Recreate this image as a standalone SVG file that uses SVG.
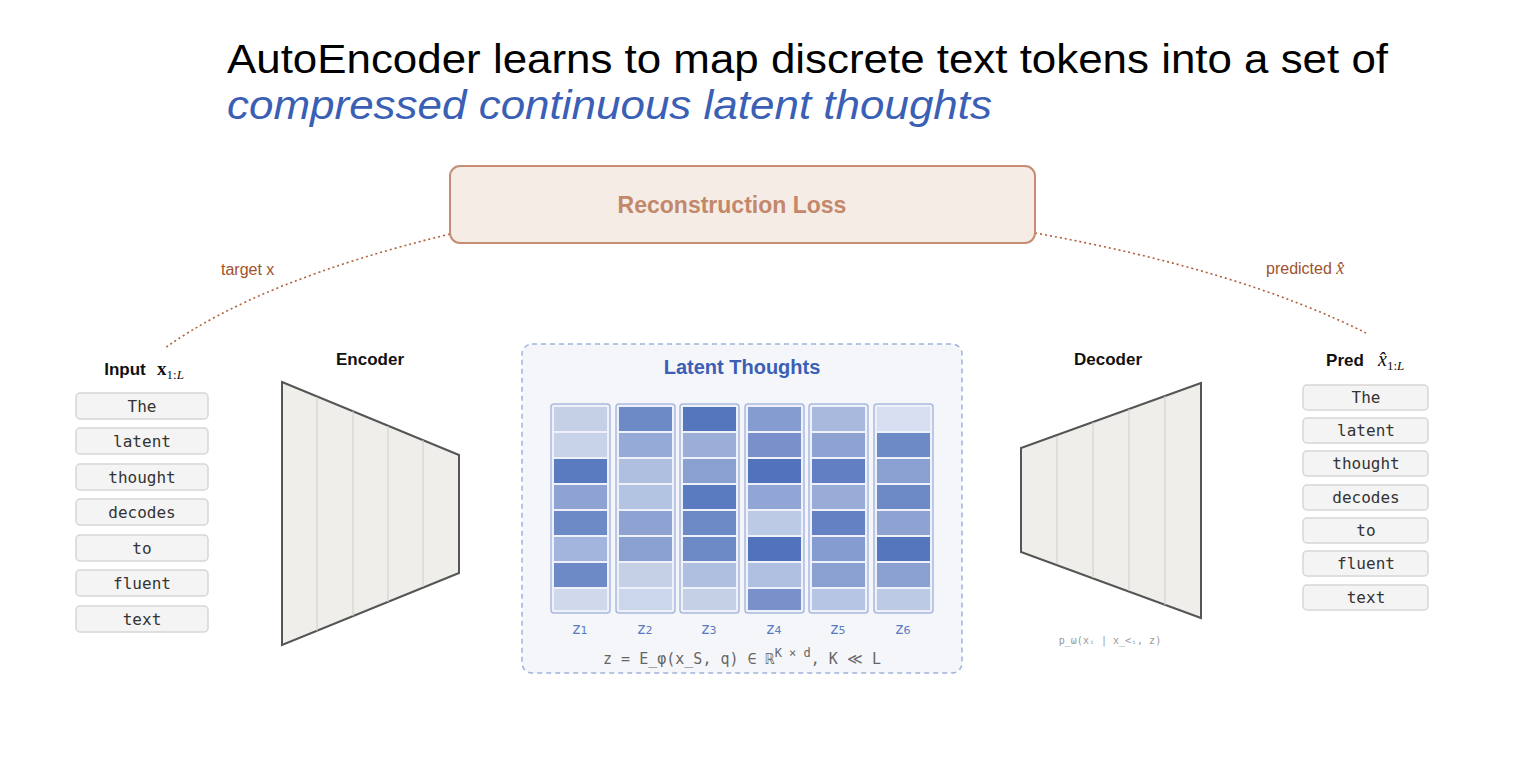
<svg xmlns="http://www.w3.org/2000/svg" width="1524" height="778" viewBox="0 0 1524 778">
<style>
.tok{fill:#f4f4f4;stroke:#d6d6d6;stroke-width:1.5}
.tt{font-family:"DejaVu Sans Mono",monospace;font-size:16px;fill:#333;text-anchor:middle}
.lbl{font-family:"Liberation Sans",Arial,sans-serif;font-weight:bold;font-size:17px;fill:#111;text-anchor:middle}
.col{fill:#eef1f9;stroke:#a9b9de;stroke-width:1.5}
.zl{font-family:"DejaVu Sans",sans-serif;font-size:15px;fill:#5a7ac0;text-anchor:middle}
.trap{fill:#efeeea;stroke:#555;stroke-width:2}
.inner{stroke:#cfcec9;stroke-width:1}
.dot{fill:none;stroke:#b0603a;stroke-width:1.6;stroke-dasharray:2 3}
.side{font-family:"Liberation Sans",Arial,sans-serif;font-size:16px;fill:#a0522d}
</style>
<rect width="1524" height="778" fill="#fff"/>
<text x="227" y="73" font-family="Liberation Sans,Arial,sans-serif" font-size="41" fill="#000" textLength="1161" lengthAdjust="spacingAndGlyphs">AutoEncoder learns to map discrete text tokens into a set of</text>
<text x="227" y="119" font-family="Liberation Sans,Arial,sans-serif" font-size="41" font-style="italic" fill="#3a5fb5" textLength="765" lengthAdjust="spacingAndGlyphs">compressed continuous latent thoughts</text>

<g id="connectors">
<path class="dot" d="M450,234 Q260,280 165,348"/>
<path class="dot" d="M1035,233 Q1240,270 1366,333"/>
<text class="side" x="221" y="275">target x</text>
<text class="side" x="1266" y="274">predicted <tspan font-family="Liberation Serif,serif" font-style="italic" font-size="18">x̂</tspan></text>
</g>

<g id="loss">
<rect x="450" y="166" width="585" height="77" rx="10" fill="#f6ece6" stroke="#c58e74" stroke-width="2"/>
<text x="732" y="213" text-anchor="middle" font-family="Liberation Sans,Arial,sans-serif" font-weight="bold" font-size="23" fill="#c3876a">Reconstruction Loss</text>
</g>

<g id="input">
<text x="125" y="375" class="lbl">Input</text>
<text x="157" y="375" font-family="Liberation Serif,serif" font-weight="bold" font-size="19" fill="#111">x<tspan font-size="13" font-weight="normal" dy="4">1:</tspan><tspan font-size="13" font-weight="normal" font-style="italic">L</tspan></text>
<rect class="tok" x="76" y="393" width="132" height="26" rx="4"/><text class="tt" x="142" y="412">The</text>
<rect class="tok" x="76" y="428" width="132" height="26" rx="4"/><text class="tt" x="142" y="447">latent</text>
<rect class="tok" x="76" y="464" width="132" height="26" rx="4"/><text class="tt" x="142" y="483">thought</text>
<rect class="tok" x="76" y="499" width="132" height="26" rx="4"/><text class="tt" x="142" y="518">decodes</text>
<rect class="tok" x="76" y="535" width="132" height="26" rx="4"/><text class="tt" x="142" y="554">to</text>
<rect class="tok" x="76" y="570" width="132" height="26" rx="4"/><text class="tt" x="142" y="589">fluent</text>
<rect class="tok" x="76" y="606" width="132" height="26" rx="4"/><text class="tt" x="142" y="625">text</text>
</g>

<g id="encoder">
<text x="370" y="365" class="lbl">Encoder</text>
<polygon class="trap" points="282,382 459,455 459,573 282,645"/>
<line class="inner" x1="317" y1="397" x2="317" y2="631"/>
<line class="inner" x1="353" y1="411" x2="353" y2="616"/>
<line class="inner" x1="388" y1="426" x2="388" y2="602"/>
<line class="inner" x1="423" y1="440" x2="423" y2="587"/>
</g>

<g id="latent">
<rect x="522" y="344" width="440" height="329" rx="10" fill="#f5f6fa" stroke="#9fb1dc" stroke-width="1.5" stroke-dasharray="5 4"/>
<text x="742" y="374" text-anchor="middle" font-family="Liberation Sans,Arial,sans-serif" font-weight="bold" font-size="20" fill="#3a5fb5">Latent Thoughts</text>
<g id="z1"><rect class="col" x="551" y="404" width="59" height="209" rx="3"/>
<rect x="554" y="407" width="53" height="24" fill="#c5d0e6"/><rect x="554" y="433" width="53" height="24" fill="#c8d2e8"/><rect x="554" y="459" width="53" height="24" fill="#5b7bc0"/><rect x="554" y="485" width="53" height="24" fill="#8ea3d2"/><rect x="554" y="511" width="53" height="24" fill="#6d89c6"/><rect x="554" y="537" width="53" height="24" fill="#a3b5dc"/><rect x="554" y="563" width="53" height="24" fill="#6d89c6"/><rect x="554" y="589" width="53" height="21" fill="#d0d9ec"/></g>
<g id="z2"><rect class="col" x="616" y="404" width="59" height="209" rx="3"/>
<rect x="619" y="407" width="53" height="24" fill="#6d89c6"/><rect x="619" y="433" width="53" height="24" fill="#95aad6"/><rect x="619" y="459" width="53" height="24" fill="#aebfe0"/><rect x="619" y="485" width="53" height="24" fill="#b3c3e2"/><rect x="619" y="511" width="53" height="24" fill="#8ea3d2"/><rect x="619" y="537" width="53" height="24" fill="#8aa0d1"/><rect x="619" y="563" width="53" height="24" fill="#c5d0e6"/><rect x="619" y="589" width="53" height="21" fill="#ccd6ea"/></g>
<g id="z3"><rect class="col" x="680" y="404" width="59" height="209" rx="3"/>
<rect x="683" y="407" width="53" height="24" fill="#5575bd"/><rect x="683" y="433" width="53" height="24" fill="#9aaed8"/><rect x="683" y="459" width="53" height="24" fill="#8aa0d1"/><rect x="683" y="485" width="53" height="24" fill="#5b7bc0"/><rect x="683" y="511" width="53" height="24" fill="#6d89c6"/><rect x="683" y="537" width="53" height="24" fill="#6d89c6"/><rect x="683" y="563" width="53" height="24" fill="#aebfe0"/><rect x="683" y="589" width="53" height="21" fill="#c5d0e6"/></g>
<g id="z4"><rect class="col" x="745" y="404" width="59" height="209" rx="3"/>
<rect x="748" y="407" width="53" height="24" fill="#859cd0"/><rect x="748" y="433" width="53" height="24" fill="#7990cb"/><rect x="748" y="459" width="53" height="24" fill="#5272bc"/><rect x="748" y="485" width="53" height="24" fill="#91a6d4"/><rect x="748" y="511" width="53" height="24" fill="#bccae6"/><rect x="748" y="537" width="53" height="24" fill="#5272bc"/><rect x="748" y="563" width="53" height="24" fill="#b0c0e1"/><rect x="748" y="589" width="53" height="21" fill="#7990cb"/></g>
<g id="z5"><rect class="col" x="809" y="404" width="59" height="209" rx="3"/>
<rect x="812" y="407" width="53" height="24" fill="#a8b9dd"/><rect x="812" y="433" width="53" height="24" fill="#8ea3d2"/><rect x="812" y="459" width="53" height="24" fill="#617fc2"/><rect x="812" y="485" width="53" height="24" fill="#98acd7"/><rect x="812" y="511" width="53" height="24" fill="#6482c3"/><rect x="812" y="537" width="53" height="24" fill="#859cd0"/><rect x="812" y="563" width="53" height="24" fill="#8aa0d1"/><rect x="812" y="589" width="53" height="21" fill="#b6c5e4"/></g>
<g id="z6"><rect class="col" x="874" y="404" width="59" height="209" rx="3"/>
<rect x="877" y="407" width="53" height="24" fill="#d6deef"/><rect x="877" y="433" width="53" height="24" fill="#6d89c6"/><rect x="877" y="459" width="53" height="24" fill="#8aa0d1"/><rect x="877" y="485" width="53" height="24" fill="#6d89c6"/><rect x="877" y="511" width="53" height="24" fill="#8ea3d2"/><rect x="877" y="537" width="53" height="24" fill="#5575bd"/><rect x="877" y="563" width="53" height="24" fill="#8aa0d1"/><rect x="877" y="589" width="53" height="21" fill="#bccae6"/></g>
<text class="zl" x="580" y="634">z<tspan font-size="11">1</tspan></text><text class="zl" x="645" y="634">z<tspan font-size="11">2</tspan></text><text class="zl" x="709" y="634">z<tspan font-size="11">3</tspan></text><text class="zl" x="774" y="634">z<tspan font-size="11">4</tspan></text><text class="zl" x="838" y="634">z<tspan font-size="11">5</tspan></text><text class="zl" x="903" y="634">z<tspan font-size="11">6</tspan></text>
<text x="742" y="664" text-anchor="middle" font-family="DejaVu Sans Mono,monospace" font-size="15" fill="#666">z = E_φ(x_S, q) ∈ ℝ<tspan font-size="12" dy="-7">K × d</tspan><tspan dy="7">, K ≪ L</tspan></text>
</g>

<g id="decoder">
<text x="1108" y="365" class="lbl">Decoder</text>
<polygon class="trap" points="1021,448 1201,383 1201,618 1021,552"/>
<line class="inner" x1="1057" y1="436" x2="1057" y2="564"/>
<line class="inner" x1="1093" y1="422" x2="1093" y2="578"/>
<line class="inner" x1="1129" y1="409" x2="1129" y2="591"/>
<line class="inner" x1="1165" y1="396" x2="1165" y2="605"/>
<text x="1110" y="644" text-anchor="middle" font-family="DejaVu Sans Mono,monospace" font-size="10" fill="#999">p_ω(xᵢ | x_&lt;ᵢ, z)</text>
</g>

<g id="pred">
<text x="1345" y="366" class="lbl">Pred</text>
<text x="1378" y="366" font-family="Liberation Serif,serif" font-style="italic" font-size="20" fill="#111">x̂<tspan font-size="13" font-style="normal" dy="4">1:</tspan><tspan font-size="13" dy="0">L</tspan></text>
<rect class="tok" x="1303" y="385" width="125" height="25" rx="4"/><text class="tt" x="1366" y="403">The</text>
<rect class="tok" x="1303" y="418" width="125" height="25" rx="4"/><text class="tt" x="1366" y="436">latent</text>
<rect class="tok" x="1303" y="451" width="125" height="25" rx="4"/><text class="tt" x="1366" y="469">thought</text>
<rect class="tok" x="1303" y="485" width="125" height="25" rx="4"/><text class="tt" x="1366" y="503">decodes</text>
<rect class="tok" x="1303" y="518" width="125" height="25" rx="4"/><text class="tt" x="1366" y="536">to</text>
<rect class="tok" x="1303" y="551" width="125" height="25" rx="4"/><text class="tt" x="1366" y="569">fluent</text>
<rect class="tok" x="1303" y="585" width="125" height="25" rx="4"/><text class="tt" x="1366" y="603">text</text>
</g>
</svg>
